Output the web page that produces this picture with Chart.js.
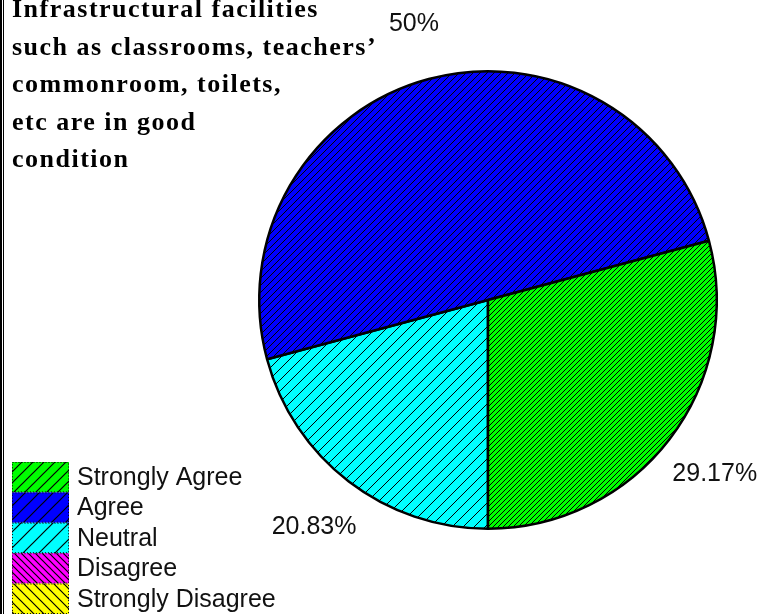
<!DOCTYPE html>
<html>
<head>
<meta charset="utf-8">
<script src="https://cdn.jsdelivr.net/npm/chart.js@4.4.1/dist/chart.umd.min.js"></script>
<style>
html,body{margin:0;padding:0;background:#fff;}
#wrap{position:relative;width:763px;height:614px;}
canvas{display:block;}
</style>
</head>
<body>
<div id="wrap"><canvas id="c" width="763" height="614"></canvas></div>
<script>
// ---- data ----
const categories = ["Strongly Agree", "Agree", "Neutral", "Disagree", "Strongly Disagree"];
const percentages = [29.17, 50, 20.83, 0, 0];
const titleLines = ["Infrastructural facilities", "such as classrooms, teachers\u2019", "commonroom, toilets,", "etc are in good", "condition"];
const sliceColors = ["#00ff00", "#0000ff", "#00ffff", "#ff00ff", "#ffff00"];

// ---- patterns ----
function makePattern(bg, s, dir, lw) {
  const c = document.createElement('canvas');
  c.width = s; c.height = s;
  const x = c.getContext('2d');
  x.fillStyle = bg; x.fillRect(0, 0, s, s);
  x.strokeStyle = '#000'; x.lineWidth = lw;
  x.beginPath();
  if (dir === '/') {
    x.moveTo(-1, s + 1); x.lineTo(s + 1, -1);
    x.moveTo(-1, 1); x.lineTo(1, -1);
    x.moveTo(s - 1, s + 1); x.lineTo(s + 1, s - 1);
  } else {
    x.moveTo(-1, -1); x.lineTo(s + 1, s + 1);
    x.moveTo(s - 1, -1); x.lineTo(s + 1, 1);
    x.moveTo(-1, s - 1); x.lineTo(1, s + 1);
  }
  x.stroke();
  return x.createPattern(c, 'repeat');
}
const pieSpacing = [5, 7, 11, 7, 9];
const pieDirs = ['/', '/', '/', '\\', '\\'];
const piePatterns = sliceColors.map((col, i) => makePattern(col, pieSpacing[i], pieDirs[i], 1));
const legSpacing = [11, 14, 16, 7, 10];
const legPatterns = sliceColors.map((col, i) => makePattern(col, legSpacing[i], pieDirs[i], 1.2));

// chart draws clockwise; reference goes counter-clockwise -> reverse order
const order = [4, 3, 2, 1, 0];

const overlay = {
  id: 'overlay',
  afterDraw(chart) {
    const ctx = chart.ctx;
    ctx.save();
    // frame lines on the left
    ctx.fillStyle = '#000';
    ctx.fillRect(0, 0, 2, 614);
    ctx.fillRect(3, 0, 1, 614);
    // title
    ctx.fillStyle = '#000';
    ctx.font = 'bold 26px "Liberation Serif", "Times New Roman", serif';
    ctx.textAlign = 'left';
    ctx.textBaseline = 'alphabetic';
    try { ctx.letterSpacing = '1.5px'; } catch (e) {}
    titleLines.forEach((t, i) => ctx.fillText(t, 12, 17 + i * 37.6));
    try { ctx.letterSpacing = '0px'; } catch (e) {}
    // value labels
    const meta = chart.getDatasetMeta(0);
    ctx.font = '25px "Liberation Sans", Arial, sans-serif';
    ctx.textAlign = 'center';
    ctx.textBaseline = 'middle';
    ctx.fillStyle = '#111';
    meta.data.forEach((arc, j) => {
      const v = chart.data.datasets[0].data[j];
      if (!v) return;
      const mid = (arc.startAngle + arc.endAngle) / 2;
      const r = arc.outerRadius + 57;
      ctx.fillText(v + '%', arc.x + Math.cos(mid) * r, arc.y + Math.sin(mid) * r);
    });
    // legend
    const lx = 12, ly = 462, sw = 57, sh = 30.4;
    ctx.textAlign = 'left';
    categories.forEach((name, i) => {
      const y = ly + i * sh;
      ctx.fillStyle = legPatterns[i];
      ctx.fillRect(lx, y, sw, sh);
      ctx.setLineDash([1, 2]);
      ctx.strokeStyle = '#000';
      ctx.lineWidth = 1;
      ctx.strokeRect(lx + 0.5, y + 0.5, sw - 1, sh - 1);
      ctx.setLineDash([]);
      ctx.fillStyle = '#111';
      ctx.fillText(name, 77, y + sh / 2 + 1);
    });
    ctx.restore();
  }
};

new Chart(document.getElementById('c'), {
  type: 'pie',
  data: {
    labels: order.map(i => categories[i]),
    datasets: [{
      data: order.map(i => percentages[i]),
      backgroundColor: order.map(i => piePatterns[i]),
      borderColor: '#000',
      borderWidth: 2.5
    }]
  },
  options: {
    responsive: false,
    animation: false,
    devicePixelRatio: 1,
    rotation: 180,
    layout: { padding: { left: 258, right: 45, top: 70, bottom: 84 } },
    plugins: {
      legend: { display: false },
      tooltip: { enabled: false },
      title: { display: false }
    },
    events: []
  },
  plugins: [overlay]
});
</script>
</body>
</html>
